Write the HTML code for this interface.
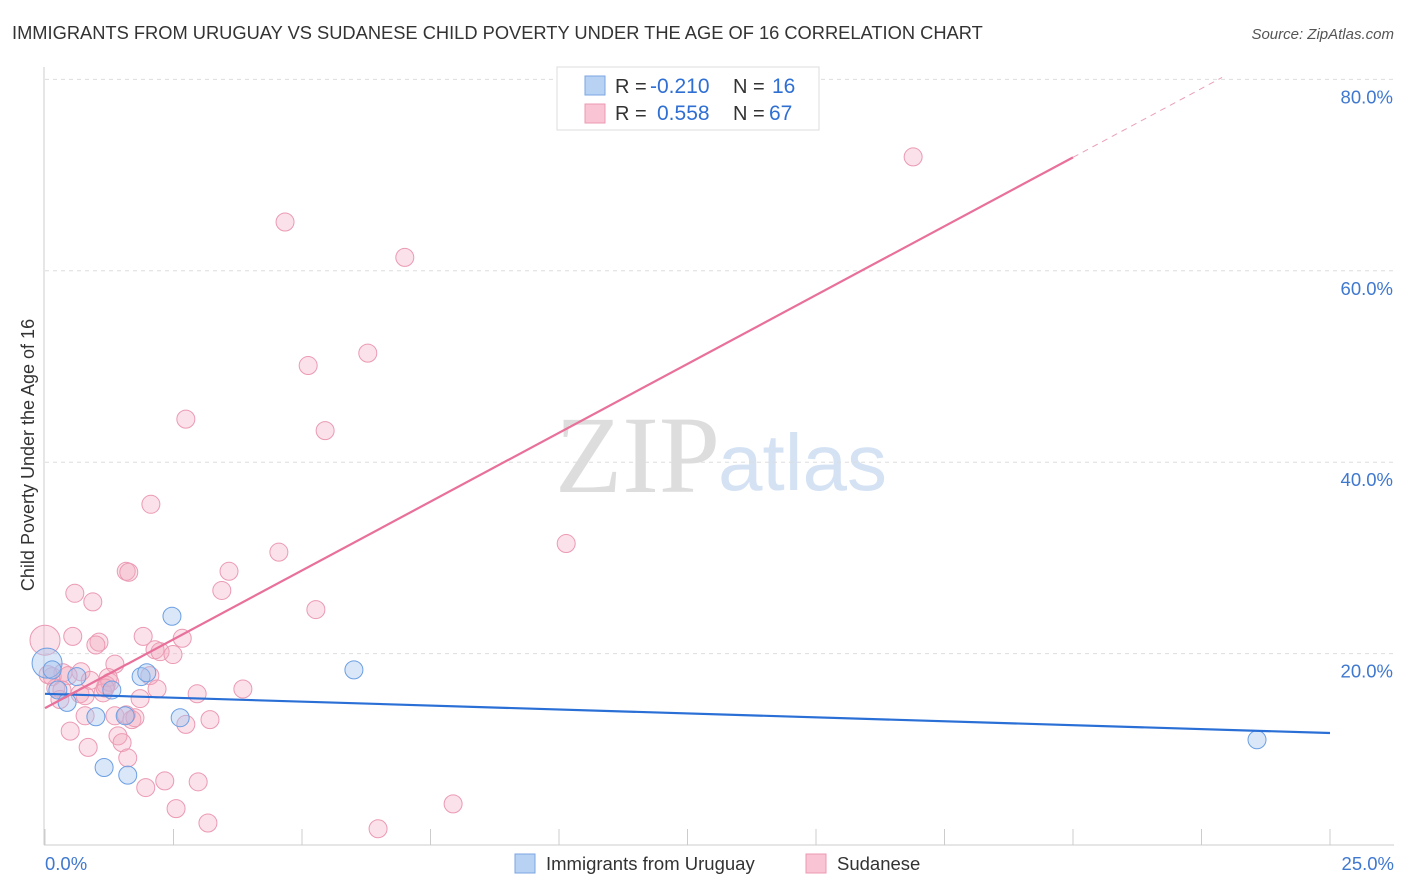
<!DOCTYPE html>
<html><head><meta charset="utf-8"><style>
body{margin:0;background:#fff;font-family:"Liberation Sans",sans-serif;}
svg{display:block}
</style></head><body>
<svg id="chart" width="1406" height="892" xmlns="http://www.w3.org/2000/svg">
<text x="12" y="39" font-size="18.3" fill="#333">IMMIGRANTS FROM URUGUAY VS SUDANESE CHILD POVERTY UNDER THE AGE OF 16 CORRELATION CHART</text>
<text x="1394" y="39" font-size="15" fill="#555" font-style="italic" text-anchor="end">Source: ZipAtlas.com</text>
<g>
<text x="555" y="492" font-family="Liberation Serif,serif" font-size="110" fill="#ddd">ZIP</text>
<text x="718" y="490" font-size="80" fill="#d4e2f4">atlas</text>
</g>
<g id="grid"></g>
<g id="axes"></g>
<g id="points"></g>
<g id="lines"></g>
<text transform="translate(34,455) rotate(-90)" font-size="18" fill="#333" text-anchor="middle">Child Poverty Under the Age of 16</text>
<g>
<rect x="557" y="67" width="262" height="63" fill="#fff" stroke="#ddd"/>
<rect x="585" y="76" width="20" height="19" fill="#b8d2f4" stroke="#7aa6e0"/>
<rect x="585" y="104" width="20" height="19" fill="#f9c4d4" stroke="#ec98b2"/>
<text x="615" y="93" font-size="20" fill="#333">R =</text>
<text x="650" y="93" font-size="21" fill="#2f6fd3">-0.210</text>
<text x="733" y="93" font-size="20" fill="#333">N =</text>
<text x="772" y="93" font-size="21" fill="#2f6fd3">16</text>
<text x="615" y="120" font-size="20" fill="#333">R =</text>
<text x="657" y="120" font-size="21" fill="#2f6fd3">0.558</text>
<text x="733" y="120" font-size="20" fill="#333">N =</text>
<text x="769" y="120" font-size="21" fill="#2f6fd3">67</text>
</g>
<g>
<rect x="515" y="854" width="20" height="19" fill="#b8d2f4" stroke="#7aa6e0"/>
<text x="546" y="870" font-size="18.5" fill="#333">Immigrants from Uruguay</text>
<rect x="806" y="854" width="20" height="19" fill="#f9c4d4" stroke="#ec98b2"/>
<text x="837" y="870" font-size="18.5" fill="#333">Sudanese</text>
</g>
</svg>
<script>
const xTicks=[0,2.5,5,7.5,10,12.5,15,17.5,20,22.5,25];
const yTicks=[20,40,60,80];
const yTickLabels=["20.0%","40.0%","60.0%","80.0%"];
const blueX=[0.04,0.14,0.25,0.43,0.62,0.99,1.15,1.30,1.56,1.61,1.87,1.98,2.47,2.63,6.01,23.58];
const blueY=[19.0,18.3,16.2,14.9,17.6,13.4,8.1,16.2,13.5,7.3,17.6,18.0,23.9,13.3,18.3,11.0];
const pinkX=[16.89,4.67,7.00,6.28,5.12,2.74,5.45,2.06,10.14,4.55,1.58,1.63,3.58,3.44,0.58,0.93,5.27,0.54,1.05,1.91,2.67,0.99,2.14,2.24,2.49,0.0,3.85,2.96,0.70,1.36,0.35,0.14,0.45,1.23,1.19,2.04,2.18,0.68,1.13,1.85,0.78,1.36,1.69,3.21,2.74,0.49,1.42,1.50,0.84,1.61,2.33,2.98,1.96,2.55,3.17,6.48,7.94,0.21,0.33,0.06,1.26,0.78,1.58,1.75,1.17,0.88,0.29];
const pinkY=[71.9,65.1,61.4,51.4,50.1,44.5,43.3,35.6,31.5,30.6,28.6,28.5,28.6,26.6,26.3,25.4,24.6,21.8,21.2,21.8,21.6,20.9,20.4,20.2,19.9,21.4,16.3,15.8,18.1,18.9,18.0,17.6,17.7,17.5,16.7,17.7,16.3,15.8,15.9,15.3,13.5,13.5,13.1,13.1,12.6,11.9,11.4,10.7,10.2,9.1,6.7,6.6,6.0,3.8,2.3,1.7,4.3,16.4,16.2,17.8,17.0,15.6,13.6,13.3,16.4,17.2,15.2];
const blueTrend=[15.8,11.7];
const pinkTrend=[14.3,80.2];
const pinkTrendSolidEnd=20;
const pinkTrendEndX=22.9;

const X=v=>45+v*51.4;
const Y=v=>845-v*9.57;
const NS="http://www.w3.org/2000/svg";
function mk(parent,tag,attrs){const e=document.createElementNS(NS,tag);for(const k in attrs)e.setAttribute(k,attrs[k]);document.getElementById(parent).appendChild(e);return e;}

yTicks.forEach((t,i)=>{
  const g=mk('grid','line',{x1:45,x2:1394,y1:Y(t),y2:Y(t),stroke:'#ddd','stroke-dasharray':'4,4'});
  
  
  const l=mk('axes','text',{x:1393,y:Y(t)+24,'font-size':18.5,fill:'#3f78cf','text-anchor':'end'});
  l.textContent=yTickLabels[i];
  
  
});
let a=mk('axes','line',{x1:44,x2:44,y1:67,y2:845,stroke:'#ccc'});


a=mk('axes','line',{x1:44,x2:1394,y1:845,y2:845,stroke:'#ccc'});


xTicks.forEach(t=>{
  const tk=mk('axes','line',{x1:X(t),x2:X(t),y1:829,y2:845,stroke:'#ccc'});
  
  
});
let xl=mk('axes','text',{x:45,y:870,'font-size':18.5,fill:'#3f78cf'});
xl.textContent="0.0%";


xl=mk('axes','text',{x:1394,y:870,'font-size':18.5,fill:'#3f78cf','text-anchor':'end'});
xl.textContent="25.0%";



pinkX.forEach((v,i)=>{
  const r=(v===0)?15:9;
  const c=mk('points','circle',{cx:X(v),cy:Y(pinkY[i]),r:r,fill:'rgba(244,170,192,0.35)',stroke:'#eb9ab3','stroke-width':1});
  
  
});
blueX.forEach((v,i)=>{
  const r=(i===0)?15:9;
  const c=mk('points','circle',{cx:X(v),cy:Y(blueY[i]),r:r,fill:'rgba(160,195,240,0.4)',stroke:'#6c9fe2','stroke-width':1});
  
  
});
let ln=mk('lines','line',{x1:X(0),y1:Y(blueTrend[0]),x2:X(25),y2:Y(blueTrend[1]),stroke:'#2a6fd6','stroke-width':2.2});


const py=x=>pinkTrend[0]+(pinkTrend[1]-pinkTrend[0])*x/pinkTrendEndX;
ln=mk('lines','line',{x1:X(0),y1:Y(py(0)),x2:X(pinkTrendSolidEnd),y2:Y(py(pinkTrendSolidEnd)),stroke:'#e8709a','stroke-width':2.2});


ln=mk('lines','line',{x1:X(pinkTrendSolidEnd),y1:Y(py(pinkTrendSolidEnd)),x2:X(pinkTrendEndX),y2:Y(py(pinkTrendEndX)),stroke:'#eaa0b8','stroke-width':1,'stroke-dasharray':'6,5'});


</script>
</body></html>
